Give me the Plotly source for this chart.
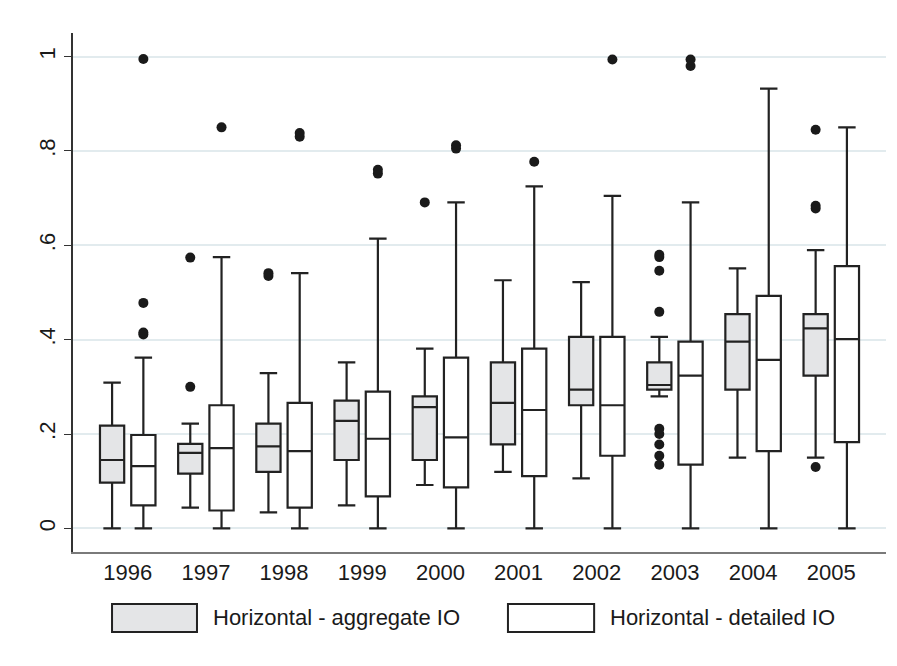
import plotly.graph_objects as go

years = ["1996", "1997", "1998", "1999", "2000", "2001", "2002", "2003", "2004", "2005"]

# Horizontal - aggregate IO (grey boxes)
agg_low = [0.0, 0.044, 0.034, 0.049, 0.092, 0.120, 0.106, 0.280, 0.150, 0.150]
agg_q1 = [0.097, 0.116, 0.120, 0.145, 0.145, 0.178, 0.261, 0.294, 0.294, 0.324]
agg_med = [0.145, 0.160, 0.174, 0.228, 0.257, 0.266, 0.294, 0.304, 0.396, 0.424]
agg_q3 = [0.218, 0.179, 0.222, 0.271, 0.280, 0.352, 0.406, 0.352, 0.454, 0.454]
agg_high = [0.309, 0.222, 0.329, 0.352, 0.381, 0.526, 0.522, 0.406, 0.551, 0.590]
agg_out = [
    [],
    [0.300, 0.574],
    [0.535, 0.541],
    [],
    [0.691],
    [],
    [],
    [0.135, 0.154, 0.178, 0.200, 0.211, 0.459, 0.546, 0.575, 0.580],
    [],
    [0.130, 0.678, 0.684, 0.845],
]

# Horizontal - detailed IO (white boxes)
det_low = [0.0, 0.0, 0.0, 0.0, 0.0, 0.0, 0.0, 0.0, 0.0, 0.0]
det_q1 = [0.049, 0.038, 0.044, 0.068, 0.087, 0.111, 0.154, 0.135, 0.164, 0.183]
det_med = [0.132, 0.170, 0.164, 0.190, 0.193, 0.251, 0.261, 0.324, 0.357, 0.401]
det_q3 = [0.198, 0.261, 0.266, 0.290, 0.362, 0.381, 0.406, 0.396, 0.493, 0.556]
det_high = [0.362, 0.575, 0.541, 0.614, 0.691, 0.725, 0.705, 0.691, 0.932, 0.850]
det_out = [
    [0.411, 0.415, 0.478, 0.995],
    [0.850],
    [0.830, 0.838],
    [0.752, 0.760],
    [0.805, 0.812],
    [0.777],
    [0.994],
    [0.980, 0.994],
    [],
    [],
]

series_names = ["Horizontal - aggregate IO", "Horizontal - detailed IO"]
fills = ["#e4e5e7", "#ffffff"]
offsets = [-0.2, 0.2]
ytick_vals = [0, 0.2, 0.4, 0.6, 0.8, 1.0]
ytick_text = ["0", ".2", ".4", ".6", ".8", "1"]

line_col = "#222222"
font_family = "Liberation Sans, Arial, sans-serif"
fsize = 22

fig = go.Figure()
pos = list(range(len(years)))
stats = [
    (agg_low, agg_q1, agg_med, agg_q3, agg_high, agg_out),
    (det_low, det_q1, det_med, det_q3, det_high, det_out),
]
for s, (lo, q1, md, q3, hi, outs) in enumerate(stats):
    xs = [p + offsets[s] for p in pos]
    fig.add_trace(go.Box(
        x=xs, q1=q1, median=md, q3=q3, lowerfence=lo, upperfence=hi,
        name=series_names[s], fillcolor=fills[s],
        line=dict(color=line_col, width=2.2),
        width=0.31, whiskerwidth=0.72, boxpoints=False,
        showlegend=False, hoverinfo="skip",
    ))
    ox, oy = [], []
    for i, vals in enumerate(outs):
        for v in vals:
            ox.append(xs[i])
            oy.append(v)
    fig.add_trace(go.Scatter(
        x=ox, y=oy, mode="markers",
        marker=dict(color="#1a1a1a", size=10, symbol="circle"),
        showlegend=False, hoverinfo="skip",
    ))

# custom legend (Stata style)
legend_boxes = [(0.048, 0.1525, 0.170), (0.535, 0.641, 0.658)]
for s, (x0, x1, tx) in enumerate(legend_boxes):
    fig.add_shape(type="rect", xref="paper", yref="paper",
                  x0=x0, x1=x1, y0=-0.154, y1=-0.100,
                  fillcolor=fills[s], line=dict(color=line_col, width=2))
    fig.add_annotation(xref="paper", yref="paper", x=tx, y=-0.127,
                       text=series_names[s], showarrow=False,
                       xanchor="left", yanchor="middle",
                       font=dict(family=font_family, size=fsize, color="#1a1a1a"))

fig.update_layout(
    width=897, height=666,
    margin=dict(l=73, r=11, t=33, b=114),
    plot_bgcolor="white", paper_bgcolor="white",
    font=dict(family=font_family, size=fsize, color="#1a1a1a"),
    showlegend=False,
)
fig.update_xaxes(
    range=[-0.7, 9.7], tickvals=pos, ticktext=years,
    showgrid=False, zeroline=False, showline=True,
    linecolor="#7a7a7a", linewidth=1.5, ticks="", ticklen=0,
    tickfont=dict(size=fsize),
)
fig.update_yaxes(
    range=[-0.05, 1.05], tickvals=ytick_vals, ticktext=ytick_text,
    tickangle=-90, showgrid=True, gridcolor="#e2ebee", gridwidth=1.5,
    zeroline=False, showline=True, linecolor="#333333", linewidth=1.5,
    ticks="outside", ticklen=7, tickcolor="#333333", tickwidth=1,
    tickfont=dict(size=fsize),
)

fig.write_html("out.html")
